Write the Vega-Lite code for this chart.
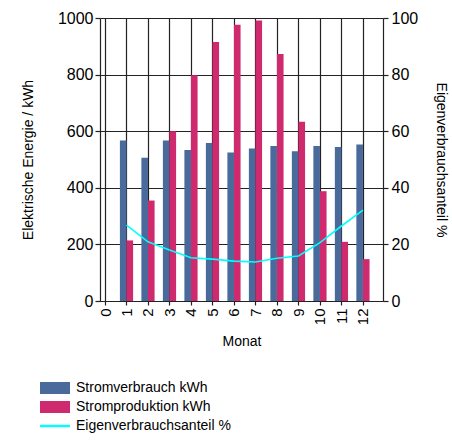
{
  "$schema": "https://vega.github.io/schema/vega-lite/v6.json",
  "autosize": "none",
  "width": 283,
  "height": 283,
  "padding": {"left": 100, "top": 18, "right": 69, "bottom": 139},
  "background": "white",
  "config": {
    "font": "Liberation Sans",
    "view": {"stroke": null},
    "axis": {"labelColor": "#000", "titleColor": "#000", "titleFontWeight": "normal", "domainColor": "#222", "tickColor": "#222", "gridColor": "#222", "gridWidth": 1.2, "domainWidth": 1.2, "tickWidth": 1.2}
  },
  "data": {
    "values": [
      {"Monat": 1, "Stromverbrauch": 567, "Stromproduktion": 214, "Eigenverbrauchsanteil": 26.8},
      {"Monat": 2, "Stromverbrauch": 506, "Stromproduktion": 355, "Eigenverbrauchsanteil": 20.9},
      {"Monat": 3, "Stromverbrauch": 567, "Stromproduktion": 600, "Eigenverbrauchsanteil": 18.0},
      {"Monat": 4, "Stromverbrauch": 534, "Stromproduktion": 798, "Eigenverbrauchsanteil": 15.3},
      {"Monat": 5, "Stromverbrauch": 558, "Stromproduktion": 915, "Eigenverbrauchsanteil": 14.8},
      {"Monat": 6, "Stromverbrauch": 525, "Stromproduktion": 976, "Eigenverbrauchsanteil": 14.1},
      {"Monat": 7, "Stromverbrauch": 539, "Stromproduktion": 991, "Eigenverbrauchsanteil": 13.8},
      {"Monat": 8, "Stromverbrauch": 548, "Stromproduktion": 873, "Eigenverbrauchsanteil": 15.1},
      {"Monat": 9, "Stromverbrauch": 529, "Stromproduktion": 633, "Eigenverbrauchsanteil": 15.9},
      {"Monat": 10, "Stromverbrauch": 548, "Stromproduktion": 388, "Eigenverbrauchsanteil": 20.6},
      {"Monat": 11, "Stromverbrauch": 544, "Stromproduktion": 209, "Eigenverbrauchsanteil": 26.5},
      {"Monat": 12, "Stromverbrauch": 553, "Stromproduktion": 148, "Eigenverbrauchsanteil": 32.1}
    ]
  },
  "encoding": {
    "x": {
      "field": "Monat", "type": "quantitative",
      "scale": {"domain": [0, 12.7], "nice": false, "zero": false},
      "axis": {"values": [0,1,2,3,4,5,6,7,8,9,10,11,12], "labelAngle": 270, "labelFontSize": 15, "labelPadding": 3, "tickSize": 4, "title": "Monat", "titleFontSize": 14, "titlePadding": 10, "grid": true, "labelFlush": false, "labelOverlap": false}
    }
  },
  "layer": [
    {
      "layer": [
        {
          "mark": {"type": "bar", "width": 6.6, "xOffset": -3.3},
          "encoding": {
            "y": {"field": "Stromverbrauch", "type": "quantitative", "scale": {"domain": [0, 1000], "nice": false},
              "axis": {"values": [0,200,400,600,800,1000], "format": "d", "title": "Elektrische Energie / kWh", "titleFontSize": 14, "labelFontSize": 16, "tickSize": 5, "labelPadding": 2, "titlePadding": 22, "grid": true}},
            "color": {"datum": "Stromverbrauch kWh", "type": "nominal",
              "scale": {"domain": ["Stromverbrauch kWh", "Stromproduktion kWh", "Eigenverbrauchsanteil %"], "range": ["#4A6A9C", "#D02A6E", "#00FFFF"]},
              "legend": {"orient": "none", "legendX": -52, "legendY": 363, "title": null, "labelFontSize": 14, "labelColor": "#000", "symbolSize": 144, "symbolStrokeWidth": 0, "labelOffset": 14, "rowPadding": 5,
                "encode": {"symbols": {"update": {"shape": {"signal": "datum.value === 'Eigenverbrauchsanteil %' ? 'M-2.5,-0.2H2.5V0.2H-2.5Z' : 'M-2.5,-1H2.5V1H-2.5Z'"}, "fill": {"scale": "color", "field": "value"}, "strokeWidth": {"value": 0}}}}}}
          }
        },
        {
          "mark": {"type": "bar", "width": 6.6, "xOffset": 3.3},
          "encoding": {
            "y": {"field": "Stromproduktion", "type": "quantitative"},
            "color": {"datum": "Stromproduktion kWh", "type": "nominal"}
          }
        }
      ]
    },
    {
      "mark": {"type": "line", "strokeWidth": 1.6},
      "encoding": {
        "y": {"field": "Eigenverbrauchsanteil", "type": "quantitative", "scale": {"domain": [0, 100], "nice": false},
          "axis": {"orient": "right", "values": [0,20,40,60,80,100], "title": "Eigenverbrauchsanteil %", "titleAngle": 90, "titleFontSize": 14, "labelFontSize": 16, "tickSize": 5, "labelPadding": 3, "titlePadding": 16, "grid": false}},
        "color": {"datum": "Eigenverbrauchsanteil %", "type": "nominal"}
      }
    }
  ],
  "resolve": {"scale": {"y": "independent"}}
}
